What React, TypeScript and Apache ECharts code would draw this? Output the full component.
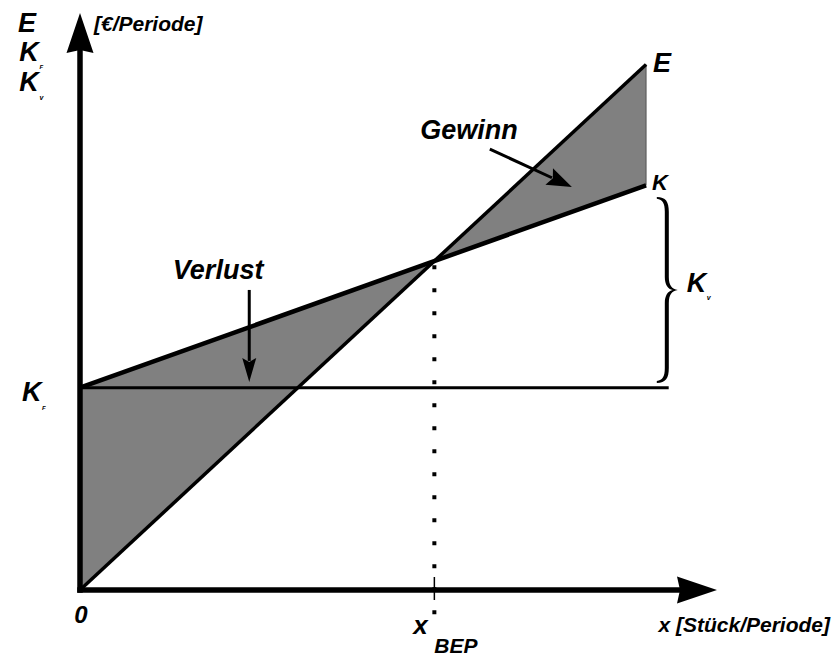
import React, { useEffect, useRef } from "react";
import * as echarts from "echarts";

// ---- data (value units of the two axes) ----
const xEnd = 100; // last quantity drawn
const revenueEnd = 100; // E at xEnd
const fixedCost = 38.5; // K_F
const totalCostEnd = 77; // K at xEnd
const fixedCostLineEnd = 104; // horizontal K_F line runs to here
const xAxisMax = 109;
const yAxisMax = 106;

const revenueLine = [
  [0, 0],
  [xEnd, revenueEnd],
];
const costLine = [
  [0, fixedCost],
  [xEnd, totalCostEnd],
];
const fixedLine = [
  [0, fixedCost],
  [fixedCostLineEnd, fixedCost],
];

// break-even point = intersection of E and K
const slopeE = revenueEnd / xEnd;
const slopeK = (totalCostEnd - fixedCost) / xEnd;
const xBep = fixedCost / (slopeE - slopeK);
const yBep = slopeE * xBep;
const bepLine = [
  [xBep, -4.6],
  [xBep, yBep],
];

// curly brace shape "}"
echarts.graphic.registerShape(
  "brace",
  echarts.graphic.extendPath(
    "M0,0 C9,0 12,5 12,16 L12,86 C12,95 15,99 21,100 C15,101 12,105 12,114 L12,184 C12,195 9,200 0,200 L0,198 C6,197 8,193 8,184 L8,114 C8,106 11,101 16,100 C11,99 8,94 8,86 L8,16 C8,7 6,3 0,2 Z",
    {}
  )
);

const FONT = '"Liberation Sans", Arial, sans-serif';
const font = (size: number) => `italic bold ${size}px ${FONT}`;

function txt(
  text: string,
  x: number,
  y: number,
  size: number,
  align: string = "center",
  vAlign: string = "middle"
) {
  return {
    type: "text",
    x,
    y,
    silent: true,
    z: 20,
    style: {
      text,
      font: font(size),
      fill: "#000",
      align,
      verticalAlign: vAlign,
      textAlign: align,
      textVerticalAlign: vAlign,
    },
  };
}

function arrow(
  from: number[],
  to: number[],
  headLen: number,
  headHalf: number,
  width: number
) {
  const dx = to[0] - from[0];
  const dy = to[1] - from[1];
  const L = Math.hypot(dx, dy);
  const ux = dx / L;
  const uy = dy / L;
  const bx = to[0] - ux * headLen;
  const by = to[1] - uy * headLen;
  return [
    {
      type: "line",
      silent: true,
      z: 20,
      shape: { x1: from[0], y1: from[1], x2: bx + ux * 3, y2: by + uy * 3 },
      style: { stroke: "#000", lineWidth: width },
    },
    {
      type: "polygon",
      silent: true,
      z: 20,
      shape: {
        points: [
          [to[0], to[1]],
          [bx - uy * headHalf, by + ux * headHalf],
          [bx + ux * 4, by + uy * 4],
          [bx + uy * headHalf, by - ux * headHalf],
        ],
      },
      style: { fill: "#000" },
    },
  ];
}

const axisArrow = "path://M13.5,0 L27,40 L13.5,37 L0,40 Z";

export default function App() {
  const ref = useRef<HTMLDivElement>(null);

  useEffect(() => {
    if (!ref.current) return;
    const chart = echarts.init(ref.current, null, { renderer: "svg" });

    const axisCommon = {
      type: "value",
      z: 5,
      axisLine: {
        show: true,
        onZero: true,
        symbol: ["none", axisArrow],
        symbolSize: [27, 40],
        lineStyle: { color: "#000", width: 5.5, cap: "square" },
      },
      axisTick: { show: false },
      axisLabel: { show: false },
      splitLine: { show: false },
    };

    chart.setOption({
      animation: false,
      backgroundColor: "#fff",
      grid: { left: 80, top: 33, right: 138, bottom: 69 },
      xAxis: { ...axisCommon, min: 0, max: xAxisMax },
      yAxis: { ...axisCommon, min: 0, max: yAxisMax },
      series: [
        {
          type: "custom",
          silent: true,
          z: 1,
          data: [[0, 0]],
          renderItem: (params: any, api: any) => {
            const p = (v: number[]) => api.coord(v);
            return {
              type: "group",
              children: [
                {
                  type: "polygon",
                  shape: {
                    points: [p([0, fixedCost]), p([xBep, yBep]), p([0, 0])],
                  },
                  style: { fill: "#808080" },
                },
                {
                  type: "polygon",
                  shape: {
                    points: [
                      p([xBep, yBep]),
                      p(revenueLine[1]),
                      p(costLine[1]),
                    ],
                  },
                  style: { fill: "#808080", stroke: "#555", lineWidth: 1 },
                },
              ],
            };
          },
        },
        {
          type: "line",
          silent: true,
          z: 3,
          data: revenueLine,
          symbol: "none",
          lineStyle: { color: "#000", width: 3.5 },
        },
        {
          type: "line",
          silent: true,
          z: 3,
          data: costLine,
          symbol: "none",
          lineStyle: { color: "#000", width: 4.5 },
        },
        {
          type: "line",
          silent: true,
          z: 3,
          data: fixedLine,
          symbol: "none",
          lineStyle: { color: "#000", width: 3 },
        },
        {
          type: "line",
          silent: true,
          z: 3,
          clip: false,
          data: bepLine,
          symbol: "none",
          lineStyle: { color: "#000", width: 4, type: [4, 19], cap: "butt" },
        },
      ],
    });

    const px = (v: number[]) =>
      chart.convertToPixel({ gridIndex: 0 }, v) as number[];

    const eEnd = px(revenueLine[1]);
    const kEnd = px(costLine[1]);
    const bep = px([xBep, 0]);
    const braceTop = px([101.9, 74.8]);
    const braceBottom = px([101.9, 39.4]);
    const gewinnText = px([68.7, 87.5]);
    const verlustText = px([24.4, 60.9]);
    const braceMid = (braceTop[1] + braceBottom[1]) / 2;

    chart.setOption({
      graphic: [
        // y axis title block
        txt("E", 27, 23, 27),
        txt("K", 29, 52, 27),
        txt("F", 39.5, 67, 6, "left"),
        txt("K", 29, 82, 27),
        txt("v", 39.5, 97, 7, "left"),
        txt("[€/Periode]", 94, 23, 21, "left"),
        // line labels
        txt("E", eEnd[0] + 7, eEnd[1] - 2, 27, "left"),
        txt("K", kEnd[0] + 6, kEnd[1] - 3, 22, "left"),
        // brace and K_v
        {
          type: "brace",
          silent: true,
          z: 20,
          x: braceTop[0],
          y: braceTop[1],
          scaleX: 1,
          scaleY: (braceBottom[1] - braceTop[1]) / 200,
          style: { fill: "#000" },
        },
        txt("K", braceTop[0] + 30, braceMid - 7, 27, "left"),
        txt("v", braceTop[0] + 50, braceMid + 8, 7, "left"),
        // K_F
        txt("K", 22, 392, 27, "left"),
        txt("F", 42, 408, 6, "left"),
        // origin and x axis
        txt("0", 81, 614, 24),
        txt("x", bep[0] - 21, 625, 26, "left"),
        txt("BEP", bep[0], 645, 21, "left"),
        {
          type: "line",
          silent: true,
          z: 20,
          shape: { x1: bep[0], y1: bep[1] - 13, x2: bep[0], y2: bep[1] + 10 },
          style: { stroke: "#000", lineWidth: 1.5 },
        },
        txt("x [Stück/Periode]", 830, 624, 21, "right"),
        // Gewinn / Verlust
        txt("Gewinn", gewinnText[0], gewinnText[1], 27),
        txt("Verlust", verlustText[0], verlustText[1], 27),
        ...arrow(px([72.4, 83.9]), px([86.9, 76.7]), 25, 9, 3),
        ...arrow(px([29.9, 57.1]), px([29.9, 39.6]), 24, 7, 3),
      ],
    });

    return () => chart.dispose();
  }, []);

  return (
    <div
      ref={ref}
      style={{
        position: "fixed",
        left: 0,
        top: 0,
        width: 835,
        height: 659,
        background: "#fff",
      }}
    />
  );
}
